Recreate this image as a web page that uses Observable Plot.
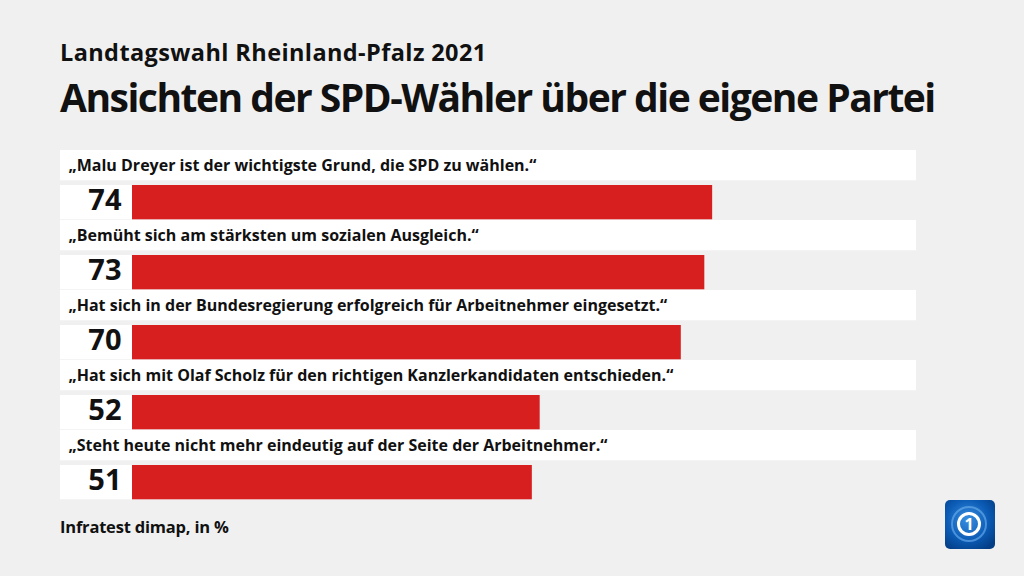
<!DOCTYPE html>
<html><head><meta charset="utf-8">
<script src="https://cdn.jsdelivr.net/npm/d3@7"></script>
<script src="https://cdn.jsdelivr.net/npm/@observablehq/plot@0.6"></script>
<style>
html,body{margin:0;padding:0;background:#f0f0f0;}
#wrap{position:relative;width:1024px;height:576px;overflow:hidden;font-family:"Open Sans",sans-serif;color:#111;}
.t{position:absolute;left:60px;line-height:1;white-space:nowrap;}
#sub{top:41px;font-size:23.5px;font-weight:700;letter-spacing:0.4px;}
#title{top:77px;font-size:39px;font-weight:700;letter-spacing:-1.5px;}
#foot{top:519px;font-size:16.5px;font-weight:700;letter-spacing:-0.2px;}
#chart{position:absolute;left:0;top:0;}
#logo{position:absolute;left:945px;top:500px;}
</style></head>
<body><div id="wrap">
<div class="t" id="sub">Landtagswahl Rheinland-Pfalz 2021</div>
<div class="t" id="title">Ansichten der SPD-Wähler über die eigene Partei</div>
<div id="chart"></div>
<div class="t" id="foot">Infratest dimap, in %</div>
<svg id="logo" width="50" height="49" viewBox="0 0 50 49">
<defs><radialGradient id="g" cx="0.45" cy="0.4" r="0.7"><stop offset="0" stop-color="#3a8fe0"/><stop offset="0.6" stop-color="#0b5bb5"/><stop offset="1" stop-color="#033e86"/></radialGradient></defs>
<rect x="0" y="0" width="50" height="49" rx="5" fill="url(#g)"/>
<circle cx="24" cy="24" r="17" fill="none" stroke="#6fb3f0" stroke-width="2" opacity="0.6"/>
<circle cx="24" cy="24" r="10.5" fill="none" stroke="#fff" stroke-width="3"/>
<text x="24" y="30" text-anchor="middle" font-family="Open Sans" font-weight="700" font-size="16" fill="#fff">1</text>
</svg>
</div>
<script>
const statements = [
  "„Malu Dreyer ist der wichtigste Grund, die SPD zu wählen.“",
  "„Bemüht sich am stärksten um sozialen Ausgleich.“",
  "„Hat sich in der Bundesregierung erfolgreich für Arbeitnehmer eingesetzt.“",
  "„Hat sich mit Olaf Scholz für den richtigen Kanzlerkandidaten entschieden.“",
  "„Steht heute nicht mehr eindeutig auf der Seite der Arbeitnehmer.“"
];
const values = [74, 73, 70, 52, 51];
const data = statements.map((s, i) => ({s, v: values[i]}));

const chart = Plot.plot({
  width: 1024, height: 576, margin: 0,
  style: {background: "transparent", fontFamily: "Open Sans, sans-serif", color: "#111"},
  x: {domain: [0, 100], range: [132, 916], axis: null},
  y: {domain: statements, range: [148, 501.5], padding: 0, axis: null},
  marks: [
    Plot.barX(data, {y: "s", x1: 0, x2: 100, fill: "white", insetLeft: -72, insetBottom: 39.7}),
    Plot.barX(data, {y: "s", x1: 0, x2: 0, fill: "white", insetLeft: -72, insetTop: 35, insetBottom: 0.7}),
    Plot.barX(data, {y: "s", x1: 0, x2: "v", fill: "#d71f1f", insetTop: 35, insetBottom: 0.7}),
    Plot.text(data, {y: "s", x: 0, text: "s", dx: -64, dy: -20, textAnchor: "start", lineAnchor: "middle", fontSize: 16, fontWeight: 700, fill: "#111"}),
    Plot.text(data, {y: "s", x: 0, text: d => String(d.v), dx: -11, dy: 15, textAnchor: "end", lineAnchor: "middle", fontSize: 29, fontWeight: 700, fill: "#111"})
  ]
});
document.getElementById("chart").appendChild(chart);
</script>
</body></html>
